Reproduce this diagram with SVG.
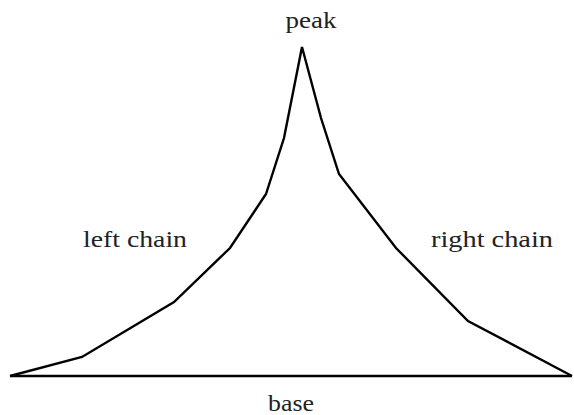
<svg xmlns="http://www.w3.org/2000/svg" width="574" height="415" viewBox="0 0 574 415">
<style>
.l{fill:none;stroke:#000;stroke-width:2.4;stroke-linejoin:miter}
.t{font-family:"Liberation Serif","Times New Roman","DejaVu Serif",serif;font-size:23px;fill:#222;text-anchor:middle}
</style>
<rect width="574" height="415" fill="#fff"/>
<g id="connectors">
<polyline class="l" points="10,376 82,357 174,302 230,248 266,194 284,138 302,47 321,118 339,174 396,248 468,321 572,376"/>
<line class="l" x1="10" y1="376" x2="572" y2="376"/>
</g>
<g id="peak"><text class="t" x="311" y="28" textLength="51" lengthAdjust="spacingAndGlyphs">peak</text></g>
<g id="left"><text class="t" x="135" y="247" textLength="104" lengthAdjust="spacingAndGlyphs">left chain</text></g>
<g id="right"><text class="t" x="492" y="247" textLength="122" lengthAdjust="spacingAndGlyphs">right chain</text></g>
<g id="base"><text class="t" x="291" y="411" textLength="46" lengthAdjust="spacingAndGlyphs">base</text></g>
</svg>
